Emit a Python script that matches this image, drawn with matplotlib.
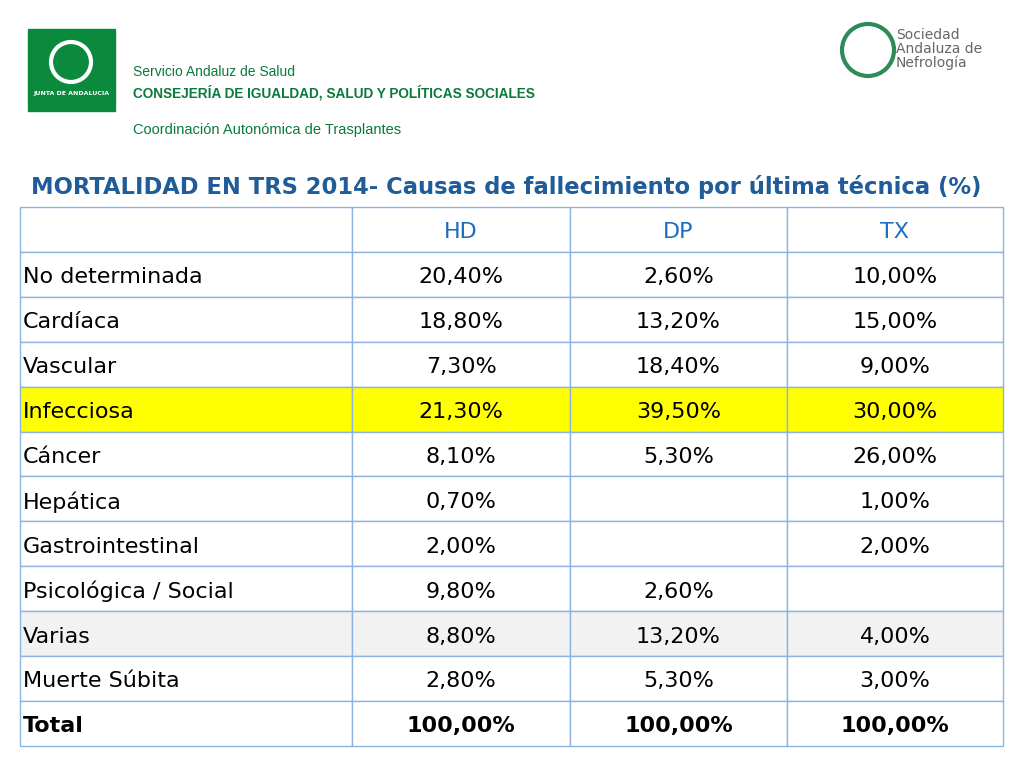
import matplotlib
matplotlib.use("Agg")
import matplotlib.pyplot as plt
from matplotlib.patches import Rectangle, Circle

title = "MORTALIDAD EN TRS 2014- Causas de fallecimiento por última técnica (%)"
columns = ["HD", "DP", "TX"]
categories = ["No determinada", "Cardíaca", "Vascular", "Infecciosa", "Cáncer", "Hepática",
              "Gastrointestinal", "Psicológica / Social", "Varias", "Muerte Súbita", "Total"]
hd = ["20,40%", "18,80%", "7,30%", "21,30%", "8,10%", "0,70%", "2,00%", "9,80%", "8,80%", "2,80%", "100,00%"]
dp = ["2,60%", "13,20%", "18,40%", "39,50%", "5,30%", "", "", "2,60%", "13,20%", "5,30%", "100,00%"]
tx = ["10,00%", "15,00%", "9,00%", "30,00%", "26,00%", "1,00%", "2,00%", "", "4,00%", "3,00%", "100,00%"]

fig = plt.figure(figsize=(10.24, 7.68), dpi=100)
ax = fig.add_axes([0, 0, 1, 1])
ax.set_xlim(0, 1024); ax.set_ylim(768, 0); ax.axis("off")

green = "#0A7A3B"
ax.add_patch(Rectangle((28, 29), 87, 82, color="#0B8A3E"))
ax.add_patch(Circle((71, 62), 20, fill=False, ec="white", lw=3))
ax.text(71, 94, "JUNTA DE ANDALUCIA", color="white", fontsize=4.5, ha="center", va="center", fontweight="bold")
ax.text(133, 72, "Servicio Andaluz de Salud", color=green, fontsize=10, va="center", family="Liberation Sans")
ax.text(133, 93, "CONSEJERÍA DE IGUALDAD, SALUD Y POLÍTICAS SOCIALES", color=green, fontsize=9.8,
        va="center", fontweight="bold", family="Liberation Sans")
ax.text(133, 130, "Coordinación Autonómica de Trasplantes", color=green, fontsize=10.5, va="center",
        family="Liberation Sans")
ax.add_patch(Circle((868, 50), 26, fill=False, ec="#2E8B57", lw=3))
for i, t in enumerate(["Sociedad", "Andaluza de", "Nefrología"]):
    ax.text(896, 35 + i * 14, t, color="#666666", fontsize=10, va="center")

ax.text(506, 187, title, color="#1F5C99", fontsize=16.3, fontweight="bold", ha="center", va="center")

xs = [20, 352, 570, 787, 1003]
top, rh = 207, 44.9
border = "#8DB3E2"
rows = [["", *columns]] + [[c, a, b, d] for c, a, b, d in zip(categories, hd, dp, tx)]
for r, row in enumerate(rows):
    y = top + r * rh
    fc = "white"
    if row[0] == "Infecciosa": fc = "#FFFF00"
    elif row[0] == "Varias": fc = "#F2F2F2"
    for c in range(4):
        ax.add_patch(Rectangle((xs[c], y), xs[c + 1] - xs[c], rh, fc=fc, ec=border, lw=1))
        txt = row[c]
        bold = row[0] == "Total"
        col = "#1F6FC0" if r == 0 else "black"
        if c == 0:
            ax.text(xs[0] + 3, y + rh / 2 + 3, txt, fontsize=16, va="center", ha="left", color=col,
                    fontweight="bold" if bold else "normal")
        else:
            ax.text((xs[c] + xs[c + 1]) / 2, y + rh / 2 + 3, txt, fontsize=16, va="center", ha="center",
                    color=col, fontweight="bold" if bold else "normal")

fig.savefig("out.png", dpi=100)
